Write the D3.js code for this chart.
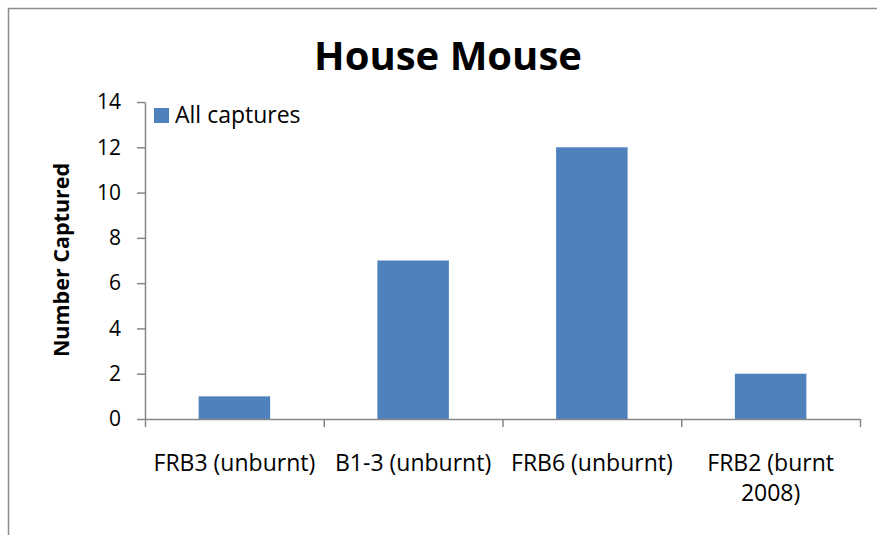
<!DOCTYPE html>
<html>
<head>
<meta charset="utf-8">
<script src="https://cdn.jsdelivr.net/npm/d3@7"></script>
<style>
  body { margin: 0; background: #fff; }
  svg { font-family: "Open Sans", sans-serif; }
</style>
</head>
<body>
<svg width="877" height="535"></svg>
<script>
// Data
var categories = [["FRB3 (unburnt)"], ["B1-3 (unburnt)"], ["FRB6 (unburnt)"], ["FRB2 (burnt", "2008)"]];
var values = [1, 7, 12, 2];
var yTicks = [0, 2, 4, 6, 8, 10, 12, 14];
var seriesName = "All captures";

var svg = d3.select("svg");

// chart frame
svg.append("path")
    .attr("d", "M8.5,535 V8.5 H877")
    .attr("fill", "none")
    .attr("stroke", "#8c8c8c")
    .attr("stroke-width", 1.5);

var plotLeft = 145, plotRight = 860, plotTop = 102, plotBottom = 419;

var x = d3.scaleBand()
    .domain(d3.range(categories.length))
    .range([plotLeft, plotRight])
    .paddingInner(0.6)
    .paddingOuter(0.3);

var y = d3.scaleLinear()
    .domain([0, 14])
    .range([plotBottom, plotTop]);

// bars
svg.append("g")
    .selectAll("rect")
    .data(values)
    .enter()
    .append("rect")
    .attr("x", function (d, i) { return x(i); })
    .attr("y", function (d) { return y(d); })
    .attr("width", x.bandwidth())
    .attr("height", function (d) { return y(0) - y(d); })
    .attr("fill", "#4f81bd");

// y axis
var yAxis = svg.append("g")
    .attr("transform", "translate(" + plotLeft + ",0)")
    .call(d3.axisLeft(y).tickValues(yTicks).tickSize(8).tickPadding(16).tickSizeOuter(0));
yAxis.select(".domain").attr("stroke", "#868686").attr("stroke-width", 1.5);
yAxis.selectAll(".tick line").attr("stroke", "#868686").attr("stroke-width", 1.5);
yAxis.selectAll(".tick text")
    .attr("font-size", 21)
    .attr("fill", "#000")
    .attr("font-family", "'Open Sans', sans-serif");

// x axis with boundary ticks
var xb = d3.scaleLinear().domain([0, categories.length]).range([plotLeft, plotRight]);
var xAxis = svg.append("g")
    .attr("transform", "translate(0," + plotBottom + ")")
    .call(d3.axisBottom(xb).tickValues(d3.range(categories.length + 1)).tickSize(8).tickSizeOuter(0).tickFormat(""));
xAxis.select(".domain").attr("stroke", "#868686").attr("stroke-width", 1.5);
xAxis.selectAll(".tick line").attr("stroke", "#868686").attr("stroke-width", 1.5);

// category labels
svg.append("g")
    .selectAll("text")
    .data(categories)
    .enter()
    .append("text")
    .attr("x", function (d, i) { return x(i) + x.bandwidth() / 2; })
    .attr("y", 471)
    .attr("text-anchor", "middle")
    .attr("font-size", 23)
    .each(function (d) {
        var t = d3.select(this);
        d.forEach(function (line, j) {
            t.append("tspan")
                .attr("x", t.attr("x"))
                .attr("dy", j === 0 ? 0 : 30)
                .text(line);
        });
    });

// title
svg.append("text")
    .attr("x", 448)
    .attr("y", 70)
    .attr("text-anchor", "middle")
    .attr("font-size", 40)
    .attr("font-weight", "bold")
    .text("House Mouse");

// y axis title
svg.append("text")
    .attr("transform", "translate(69,260) rotate(-90)")
    .attr("text-anchor", "middle")
    .attr("font-size", 21.5)
    .attr("font-weight", "bold")
    .text("Number Captured");

// legend
svg.append("rect")
    .attr("x", 154).attr("y", 108)
    .attr("width", 15).attr("height", 15)
    .attr("fill", "#4f81bd");
svg.append("text")
    .attr("x", 175).attr("y", 123)
    .attr("font-size", 23)
    .text(seriesName);
</script>
</body>
</html>
